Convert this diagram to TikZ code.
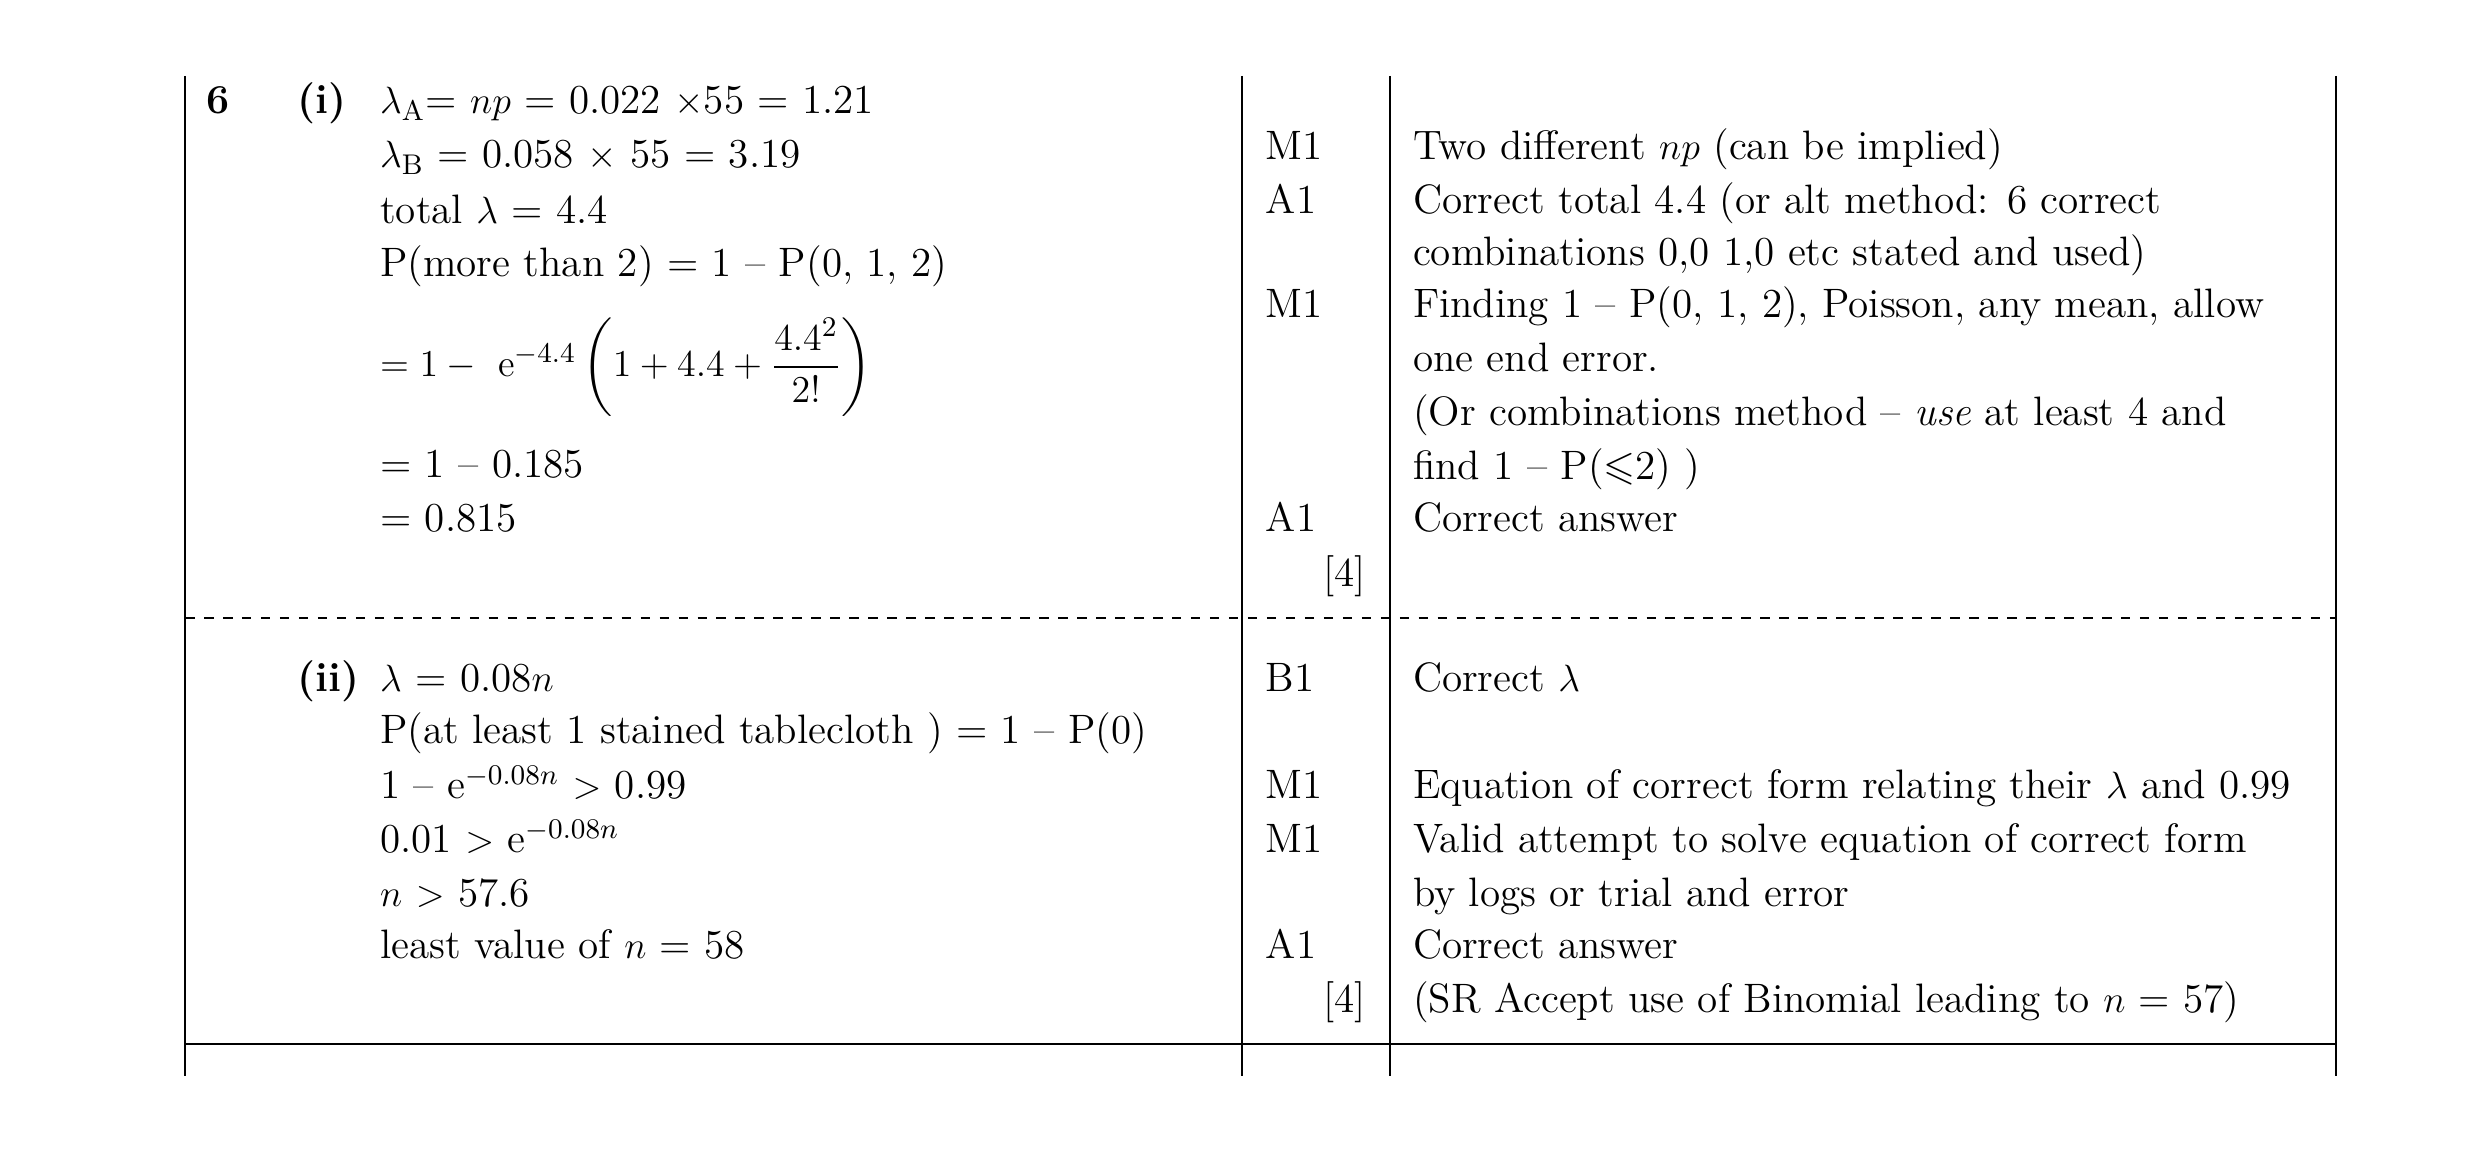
\documentclass[tikz,border=0pt]{standalone}
\usepackage{amsmath,amssymb}
\usetikzlibrary{positioning}
\begin{document}
\begin{tikzpicture}[x=0.5pt,y=-0.5pt,
  txt/.style={anchor=base west,inner sep=0pt,font=\fontsize{13}{16}\selectfont},
  mk/.style={anchor=base east,inner sep=0pt,font=\fontsize{13}{16}\selectfont}]
\useasboundingbox (0,0) rectangle (1568,728);
% rules
\foreach \x in {117,785,879,1477} \draw[line width=0.6pt] (\x,48) -- (\x,680);
\draw[dashed,line width=0.6pt] (117,391) -- (1477,391);
\draw[line width=0.6pt] (117,660) -- (1477,660);
% part (i)
\node[txt] (q) at (130,72) {\textbf{6}};
\node[txt] (pi) at (188,72) {\textbf{(i)}};
\node[txt] (a1) at (240,72) {$\lambda_{\mathrm A}$= $np$ = 0.022 $\times$55 = 1.21};
\node[txt] (a2) at (240,106) {$\lambda_{\mathrm B}$ = 0.058 $\times$ 55 = 3.19};
\node[txt] (a3) at (240,141) {total $\lambda$ = 4.4};
\node[txt] (a4) at (240,175) {P(more than 2) = 1 -- P(0, 1, 2)};
\node[anchor=west,inner sep=0pt,font=\fontsize{13}{16}\selectfont] (a5) at (240,232)
  {$= 1 -\ \mathrm{e}^{-4.4}\left(1+4.4+\dfrac{4.4^2}{2!}\right)$};
\node[txt] (a6) at (240,302) {= 1 -- 0.185};
\node[txt] (a7) at (240,336) {= 0.815};
\foreach \t/\y in {M1/101,A1/135,M1/201,A1/336} \node[txt] at (800,\y) {\t};
\node[mk] (m1) at (864,371) {[4]};
\node[txt] at (893,101) {Two different $np$ (can be implied)};
\node[txt] at (893,135) {Correct total 4.4 (or alt method: 6 correct};
\node[txt] at (893,168) {combinations 0,0 1,0 etc stated and used)};
\node[txt] at (893,201) {Finding 1 -- P(0, 1, 2), Poisson, any mean, allow};
\node[txt] at (893,235) {one end error.};
\node[txt] at (893,269) {(Or combinations method -- \emph{use} at least 4 and};
\node[txt] at (893,303) {find 1 -- P($\leqslant$2) )};
\node[txt] at (893,336) {Correct answer};
% part (ii)
\node[txt] (pii) at (188,437) {\textbf{(ii)}};
\node[txt] (b1) at (240,437) {$\lambda$ = 0.08$n$};
\node[txt] (b2) at (240,470) {P(at least 1 stained tablecloth ) = 1 -- P(0)};
\node[txt] (b3) at (240,505) {1 -- e$^{-0.08n}$ $>$ 0.99};
\node[txt] (b4) at (240,539) {0.01 $>$ e$^{-0.08n}$};
\node[txt] (b5) at (240,573) {$n$ $>$ 57.6};
\node[txt] (b6) at (240,606) {least value of $n$ = 58};
\foreach \t/\y in {B1/437,M1/505,M1/539,A1/606} \node[txt] at (800,\y) {\t};
\node[mk] (m2) at (864,640) {[4]};
\node[txt] at (893,437) {Correct $\lambda$};
\node[txt] at (893,505) {Equation of correct form relating their $\lambda$ and 0.99};
\node[txt] at (893,539) {Valid attempt to solve equation of correct form};
\node[txt] at (893,573) {by logs or trial and error};
\node[txt] at (893,606) {Correct answer};
\node[txt] at (893,640) {(SR Accept use of Binomial leading to $n$ = 57)};
\end{tikzpicture}
\end{document}
